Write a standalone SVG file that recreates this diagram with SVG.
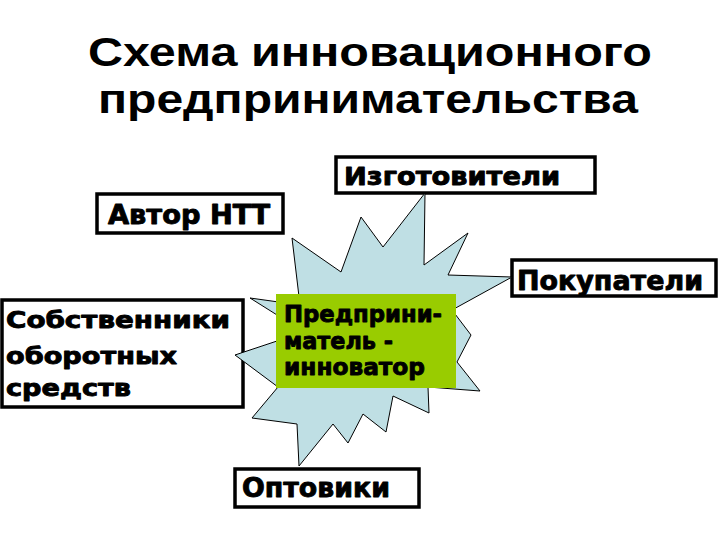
<svg xmlns="http://www.w3.org/2000/svg" width="720" height="540" viewBox="0 0 720 540">
<style>
.box{fill:#fff;stroke:#000;stroke-width:3.5}
.t{font-family:"DejaVu Sans","Liberation Sans",sans-serif;font-weight:bold;fill:#000;stroke:#000;stroke-width:0.9;stroke-linejoin:round}
.title{font-family:"Liberation Sans",Arial,sans-serif;font-weight:bold;font-size:40px;fill:#000}
</style>
<rect width="720" height="540" fill="#fff"/>
<g id="title">
<text class="title" x="88" y="66" textLength="564" lengthAdjust="spacingAndGlyphs">Схема инновационного</text>
<text class="title" x="98" y="113" textLength="540" lengthAdjust="spacingAndGlyphs">предпринимательства</text>
</g>
<g id="author">
<rect class="box" x="97" y="194" width="186" height="39"/>
<text class="t" x="108" y="224" font-size="27" textLength="162" lengthAdjust="spacingAndGlyphs">Автор НТТ</text>
</g>
<g id="makers">
<rect class="box" x="336" y="157" width="259" height="36"/>
<text class="t" x="344" y="185" font-size="25" textLength="216" lengthAdjust="spacingAndGlyphs">Изготовители</text>
</g>
<g id="buyers">
<rect class="box" x="512" y="260" width="204" height="36"/>
<text class="t" x="517" y="290" font-size="27" textLength="186" lengthAdjust="spacingAndGlyphs">Покупатели</text>
</g>
<g id="owners">
<rect class="box" x="2" y="300" width="241" height="107"/>
<text class="t" x="6" y="328" font-size="23" textLength="224" lengthAdjust="spacingAndGlyphs">Собственники</text>
<text class="t" x="6" y="364" font-size="23" textLength="171" lengthAdjust="spacingAndGlyphs">оборотных</text>
<text class="t" x="6" y="396" font-size="23" textLength="125" lengthAdjust="spacingAndGlyphs">средств</text>
</g>
<g id="wholesalers">
<rect class="box" x="235" y="469" width="184" height="38"/>
<text class="t" x="242" y="497" font-size="27" textLength="148" lengthAdjust="spacingAndGlyphs">Оптовики</text>
</g>
<g id="star">
<polygon fill="#bfdfe4" stroke="#000" stroke-width="1" stroke-linejoin="miter" points="425,193 424,265 468,233 448,275 512,277 452,310 471,335 457,362 480,391 428,387 429,413 393,396 386,432 363,414 348,443 333,424 299,466 297,424 252,418 278,387 235,355 280,340 285,320 250,298 300,305 292,238 341,272 361,217 383,247"/>
</g>
<g id="entrepreneur">
<rect x="276" y="294" width="180" height="94" fill="#99cc00"/>
<text class="t" x="284" y="322" font-size="23" textLength="158" lengthAdjust="spacingAndGlyphs">Предприни-</text>
<text class="t" x="284" y="349" font-size="23" textLength="109" lengthAdjust="spacingAndGlyphs">матель -</text>
<text class="t" x="284" y="375" font-size="23" textLength="141" lengthAdjust="spacingAndGlyphs">инноватор</text>
</g>
</svg>
